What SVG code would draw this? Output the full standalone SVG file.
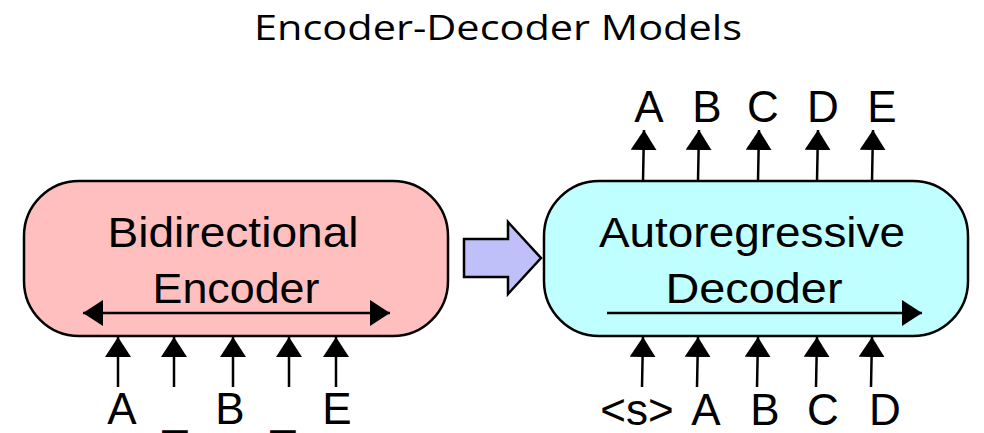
<svg xmlns="http://www.w3.org/2000/svg" width="984" height="433" viewBox="0 0 984 433">
  <defs>
    <marker id="head" viewBox="0 0 20 26" refX="20" refY="13" markerWidth="20" markerHeight="26" markerUnits="userSpaceOnUse" orient="auto-start-reverse">
      <path d="M0,0 L20,13 L0,26 Z" fill="#000"/>
    </marker>
    <style>
      .title { font-family: "Open Sans", "Noto Sans", sans-serif; font-size: 35px; fill: #000; }
      .lbl { font-family: "Liberation Sans", Arial, sans-serif; font-size: 43px; fill: #000; text-anchor: middle; }
      .tok { font-family: "Liberation Sans", Arial, sans-serif; font-size: 44px; fill: #000; text-anchor: middle; }
      .box { stroke: #000; stroke-width: 2.5; }
      .edge { stroke: #000; stroke-width: 2.5; fill: none; }
      .tokarrow { stroke: #000; stroke-width: 2.5; fill: none; marker-end: url(#head); }
    </style>
  </defs>

  <text class="title" x="498" y="40" text-anchor="middle" textLength="488" lengthAdjust="spacingAndGlyphs">Encoder-Decoder Models</text>

  <!-- Encoder -->
  <g id="encoder">
    <rect class="box" x="24" y="181" width="424" height="155" rx="55" ry="55" fill="#ffbfbf"/>
    <text class="lbl" x="233" y="247" textLength="251" lengthAdjust="spacingAndGlyphs">Bidirectional</text>
    <text class="lbl" x="236" y="303" textLength="167" lengthAdjust="spacingAndGlyphs">Encoder</text>
    <line class="edge" x1="83" y1="313" x2="390" y2="313" marker-start="url(#head)" marker-end="url(#head)"/>
  </g>

  <!-- Decoder -->
  <g id="decoder">
    <rect class="box" x="544" y="181" width="424" height="155" rx="55" ry="55" fill="#bfffff"/>
    <text class="lbl" x="752" y="247" textLength="306" lengthAdjust="spacingAndGlyphs">Autoregressive</text>
    <text class="lbl" x="754" y="303" textLength="177" lengthAdjust="spacingAndGlyphs">Decoder</text>
    <line class="edge" x1="607" y1="313" x2="922" y2="313" marker-end="url(#head)"/>
  </g>

  <!-- Block arrow from encoder to decoder -->
  <g id="handoff">
    <path d="M464,239 L508,239 L508,222 L541,258 L508,294 L508,277 L464,277 Z" fill="#bfbffa" stroke="#000" stroke-width="2.5" stroke-linejoin="miter"/>
  </g>

  <!-- Token labels -->
  <g id="encoder-inputs">
    <text class="tok" x="122" y="424">A</text>
    <text class="tok" x="175" y="424">_</text>
    <text class="tok" x="230" y="424">B</text>
    <text class="tok" x="283" y="424">_</text>
    <text class="tok" x="337" y="424">E</text>
  </g>
  <g id="decoder-inputs">
    <text class="tok" x="637" y="425">&lt;s&gt;</text>
    <text class="tok" x="706" y="425">A</text>
    <text class="tok" x="765" y="425">B</text>
    <text class="tok" x="823" y="425">C</text>
    <text class="tok" x="885" y="425">D</text>
  </g>
  <g id="decoder-outputs">
    <text class="tok" x="649" y="122">A</text>
    <text class="tok" x="707" y="122">B</text>
    <text class="tok" x="763" y="122">C</text>
    <text class="tok" x="823" y="122">D</text>
    <text class="tok" x="882" y="122">E</text>
  </g>

  <!-- Token connectors -->
  <g id="connectors">
    <line class="tokarrow" x1="118" y1="387" x2="118" y2="337"/>
    <line class="tokarrow" x1="174" y1="387" x2="174" y2="337"/>
    <line class="tokarrow" x1="233" y1="387" x2="233" y2="337"/>
    <line class="tokarrow" x1="289" y1="387" x2="289" y2="337"/>
    <line class="tokarrow" x1="336" y1="387" x2="336" y2="337"/>

    <line class="tokarrow" x1="642" y1="387" x2="643" y2="337"/>
    <line class="tokarrow" x1="697" y1="387" x2="698" y2="337"/>
    <line class="tokarrow" x1="757" y1="387" x2="758" y2="337"/>
    <line class="tokarrow" x1="816" y1="387" x2="817" y2="337"/>
    <line class="tokarrow" x1="871" y1="387" x2="872" y2="337"/>

    <line class="tokarrow" x1="643" y1="181" x2="644" y2="130"/>
    <line class="tokarrow" x1="698" y1="181" x2="699" y2="130"/>
    <line class="tokarrow" x1="758" y1="181" x2="759" y2="130"/>
    <line class="tokarrow" x1="817" y1="181" x2="818" y2="130"/>
    <line class="tokarrow" x1="872" y1="181" x2="873" y2="130"/>
  </g>
</svg>
